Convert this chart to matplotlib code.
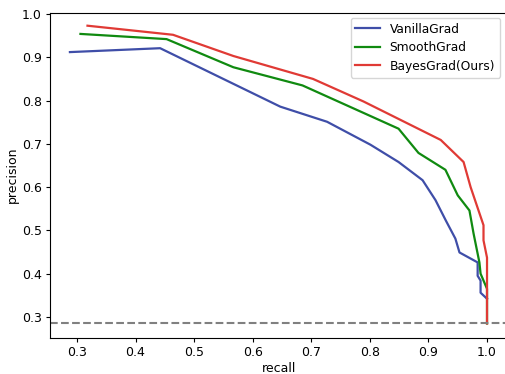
import matplotlib
matplotlib.use("Agg")
import matplotlib.pyplot as plt

# precision-recall curves
vanilla_recall = [0.288, 0.442, 0.647, 0.727, 0.801, 0.849, 0.890, 0.912, 0.930,
                  0.946, 0.953, 0.984, 0.984, 0.989, 0.989, 1.0]
vanilla_prec = [0.912, 0.921, 0.786, 0.751, 0.698, 0.658, 0.616, 0.570, 0.522,
                0.481, 0.449, 0.426, 0.395, 0.384, 0.356, 0.342]

smooth_recall = [0.306, 0.453, 0.567, 0.685, 0.849, 0.883, 0.929, 0.950, 0.970,
                 0.977, 0.987, 0.989, 1.0, 1.0]
smooth_prec = [0.954, 0.942, 0.877, 0.835, 0.735, 0.679, 0.640, 0.581, 0.546,
               0.493, 0.426, 0.400, 0.365, 0.285]

bayes_recall = [0.318, 0.464, 0.567, 0.703, 0.789, 0.921, 0.960, 0.972, 0.994,
                0.994, 1.0, 1.0]
bayes_prec = [0.973, 0.952, 0.903, 0.850, 0.798, 0.709, 0.658, 0.600, 0.512,
              0.477, 0.437, 0.285]

baseline = 0.2855

plt.rcParams.update({
    "font.size": 9,
    "xtick.major.size": 3,
    "ytick.major.size": 3,
    "xtick.major.pad": 3,
    "ytick.major.pad": 3,
    "axes.labelpad": 2,
})

fig = plt.figure(figsize=(5.05, 3.74), dpi=100)
ax = fig.add_axes([0.099, 0.097, 0.906, 0.869])

ax.plot(vanilla_recall, vanilla_prec, color="#3f4ea8", lw=1.6, label="VanillaGrad")
ax.plot(smooth_recall, smooth_prec, color="#108a10", lw=1.6, label="SmoothGrad")
ax.plot(bayes_recall, bayes_prec, color="#e03a35", lw=1.6, label="BayesGrad(Ours)")
ax.axhline(baseline, color="gray", ls="--", lw=1.5)

ax.set_xlim(0.254, 1.035)
ax.set_ylim(0.252, 1.003)
ax.set_xticks([0.3, 0.4, 0.5, 0.6, 0.7, 0.8, 0.9, 1.0])
ax.set_yticks([0.3, 0.4, 0.5, 0.6, 0.7, 0.8, 0.9, 1.0])
ax.set_xlabel("recall")
ax.set_ylabel("precision")
ax.legend(loc="upper right", bbox_to_anchor=(0.997, 1.003), labelspacing=0.45,
          fontsize=8.8)

fig.savefig("out.png", dpi=100)
